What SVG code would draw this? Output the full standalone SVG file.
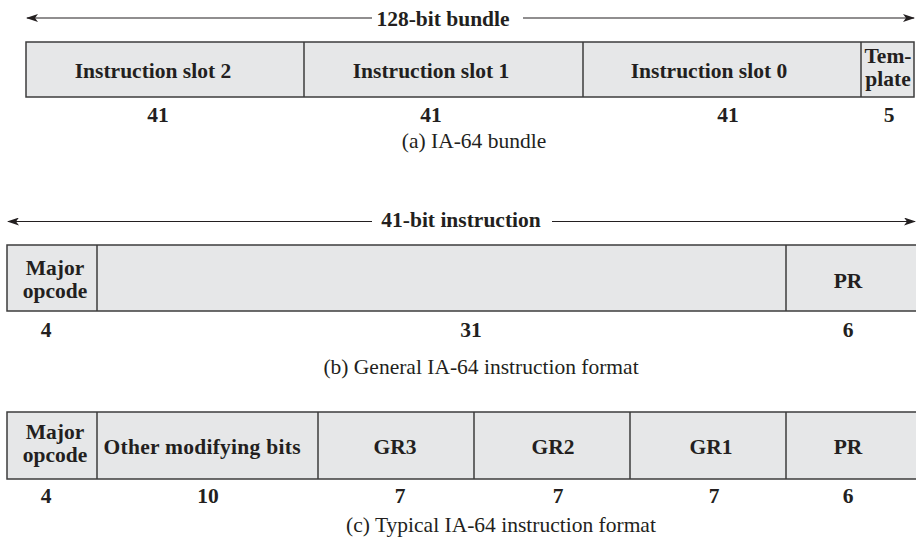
<svg xmlns="http://www.w3.org/2000/svg" width="916" height="538" viewBox="0 0 916 538">
<defs>
<marker id="ah" markerWidth="12" markerHeight="8" refX="11" refY="4" orient="auto-start-reverse" markerUnits="userSpaceOnUse">
<path d="M0,0 L12,4 L0,8 L3,4 Z" fill="#231f20"/>
</marker>
<style>
.box{fill:#e6e7e8;stroke:#3d3d3d;stroke-width:1.5}
.div{stroke:#3d3d3d;stroke-width:1.5;fill:none}
.ln{stroke:#231f20;stroke-width:1.2;fill:none}
.b{font-family:"Liberation Serif","Times New Roman",serif;font-weight:bold;font-size:21.5px;fill:#231f20;text-anchor:middle}
.r{font-family:"Liberation Serif","Times New Roman",serif;font-size:21.5px;fill:#231f20;text-anchor:middle}
</style>
</defs>

<g id="connectors">
<line class="ln" x1="372" y1="18" x2="27" y2="18" marker-end="url(#ah)"/>
<line class="ln" x1="523" y1="18" x2="914" y2="18" marker-end="url(#ah)"/>
<line class="ln" x1="372" y1="221.5" x2="8" y2="221.5" marker-end="url(#ah)"/>
<line class="ln" x1="552" y1="221.5" x2="915" y2="221.5" marker-end="url(#ah)"/>
</g>

<g id="bundle">
<text class="b" x="443" y="26">128-bit bundle</text>
<rect class="box" x="26" y="42" width="888" height="55"/>
<line class="div" x1="304" y1="42" x2="304" y2="97"/>
<line class="div" x1="583" y1="42" x2="583" y2="97"/>
<line class="div" x1="861" y1="42" x2="861" y2="97"/>
<text class="b" x="153" y="78">Instruction slot 2</text>
<text class="b" x="431" y="78">Instruction slot 1</text>
<text class="b" x="709" y="78">Instruction slot 0</text>
<text class="b" x="888" y="63">Tem-</text>
<text class="b" x="888" y="86">plate</text>
<text class="b" x="158" y="121.5">41</text>
<text class="b" x="431" y="121.5">41</text>
<text class="b" x="728" y="121.5">41</text>
<text class="b" x="889" y="121.5">5</text>
<text class="r" x="474" y="148">(a) IA-64 bundle</text>
</g>

<g id="general">
<text class="b" x="461" y="226.5">41-bit instruction</text>
<rect class="box" x="7" y="245" width="912" height="66"/>
<line class="div" x1="97" y1="245" x2="97" y2="311"/>
<line class="div" x1="786" y1="245" x2="786" y2="311"/>
<text class="b" x="55" y="275">Major</text>
<text class="b" x="55" y="298">opcode</text>
<text class="b" x="848" y="288">PR</text>
<text class="b" x="46" y="337">4</text>
<text class="b" x="471" y="337">31</text>
<text class="b" x="848" y="337">6</text>
<text class="r" x="481" y="374">(b) General IA-64 instruction format</text>
</g>

<g id="typical">
<rect class="box" x="7" y="412" width="912" height="67"/>
<line class="div" x1="97" y1="412" x2="97" y2="479"/>
<line class="div" x1="318" y1="412" x2="318" y2="479"/>
<line class="div" x1="474" y1="412" x2="474" y2="479"/>
<line class="div" x1="630" y1="412" x2="630" y2="479"/>
<line class="div" x1="786" y1="412" x2="786" y2="479"/>
<text class="b" x="55" y="439">Major</text>
<text class="b" x="55" y="462">opcode</text>
<text class="b" x="202" y="454" textLength="197" lengthAdjust="spacing">Other modifying bits</text>
<text class="b" x="395" y="454">GR3</text>
<text class="b" x="553" y="454">GR2</text>
<text class="b" x="711" y="454">GR1</text>
<text class="b" x="848" y="454">PR</text>
<text class="b" x="46" y="503">4</text>
<text class="b" x="208" y="503">10</text>
<text class="b" x="400" y="503">7</text>
<text class="b" x="558" y="503">7</text>
<text class="b" x="714" y="503">7</text>
<text class="b" x="848" y="503">6</text>
<text class="r" x="501" y="532">(c) Typical IA-64 instruction format</text>
</g>
</svg>
